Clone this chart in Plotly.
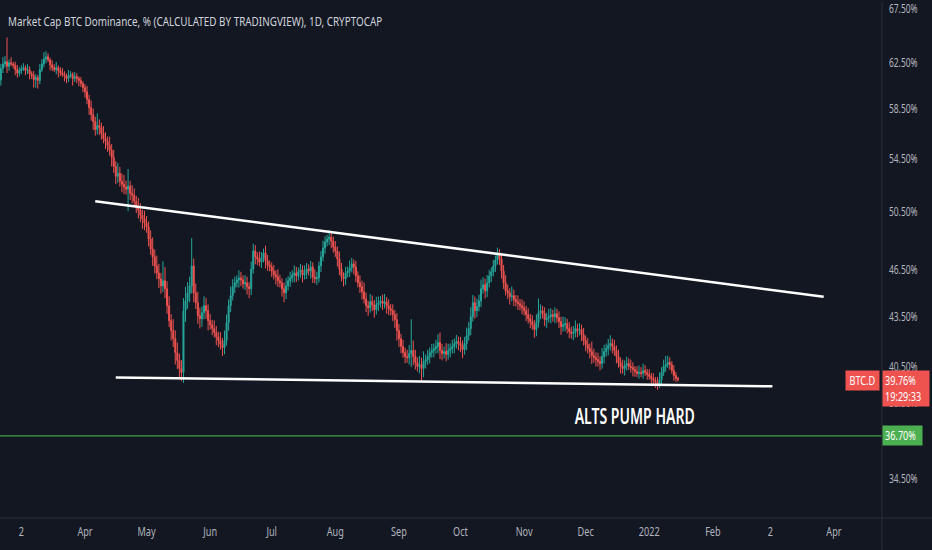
import numpy as np
import pandas as pd
import plotly.graph_objects as go

# daily closes of BTC.D (%)
feb_close = [62.00, 62.40, 62.60, 62.20, 62.50, 62.40, 62.30, 61.90, 61.60, 61.80]
mar_close = [61.98, 62.07, 61.81, 61.89, 61.54, 61.37, 61.02, 61.20, 60.94, 61.89,
             62.42, 62.86, 63.04, 62.77, 62.33, 62.07, 61.89, 62.07, 61.81, 61.63,
             61.46, 61.37, 61.11, 61.37, 61.46, 61.11, 61.28, 61.11, 60.94, 60.68, 60.33]
apr_close = [59.98, 59.31, 58.63, 58.05, 57.48, 56.83, 57.15, 56.99, 56.51, 56.11,
             55.87, 55.55, 55.16, 54.61, 53.92, 53.16, 53.38, 52.78, 52.56, 52.33,
             52.18, 52.41, 51.89, 51.74, 51.30, 50.94, 50.65, 50.29, 50.01, 49.72]
may_close = [49.44, 48.60, 47.92, 47.38, 46.77, 46.31, 45.92, 45.46, 45.79, 45.27,
             44.19, 43.26, 42.65, 42.16, 41.33, 40.87, 40.40, 40.18, 43.88, 44.50,
             45.01, 45.46, 46.77, 45.01, 44.38, 43.57, 43.38, 43.75, 44.19, 43.88, 43.26]
jun_close = [43.01, 42.77, 42.53, 42.28, 42.05, 41.81, 41.63, 42.05, 43.14, 44.19,
             44.82, 45.40, 45.66, 45.85, 45.98, 45.85, 45.59, 45.66, 45.40, 45.27,
             46.57, 47.78, 47.38, 47.24, 47.04, 47.31, 47.65, 47.11, 46.84, 46.71]
jul_close = [46.44, 46.18, 46.05, 45.79, 45.66, 45.27, 45.01, 45.46, 45.79, 45.98,
             46.18, 46.31, 46.11, 46.38, 46.51, 46.18, 46.31, 46.57, 46.44, 46.71,
             46.05, 45.92, 45.98, 46.77, 47.38, 47.99, 48.40, 48.60, 48.74, 48.47, 48.06]
aug_close = [47.78, 47.24, 46.57, 46.05, 45.92, 46.31, 46.44, 46.64, 46.91, 46.71,
             46.11, 45.66, 45.40, 45.08, 44.63, 44.19, 44.06, 44.44, 44.25, 43.94,
             44.25, 44.38, 44.50, 44.32, 44.44, 44.19, 44.00, 43.88, 43.63, 43.32, 42.65]
sep_close = [42.16, 41.69, 41.33, 41.10, 41.04, 41.28, 41.45, 41.10, 40.75, 40.52,
             40.63, 40.40, 40.81, 40.92, 41.10, 41.33, 41.45, 41.57, 41.69, 41.93,
             41.45, 41.28, 41.39, 41.22, 41.45, 41.57, 41.69, 41.87, 41.99, 41.87]
oct_close = [41.75, 41.51, 41.87, 42.34, 42.77, 43.50, 44.38, 43.88, 44.13, 44.50,
             45.27, 45.53, 45.14, 45.66, 46.11, 46.38, 46.77, 47.17, 47.51, 47.24,
             46.44, 45.66, 45.14, 45.01, 44.76, 44.82, 44.57, 44.44, 44.32, 44.19, 44.06]
nov_close = [43.88, 43.63, 43.38, 43.20, 43.01, 42.71, 43.14, 43.75, 43.88, 43.69,
             43.32, 43.44, 43.50, 43.63, 43.50, 43.69, 43.44, 43.20, 42.89, 43.01,
             43.07, 42.77, 42.59, 42.47, 42.53, 42.77, 42.65, 42.71, 42.41, 42.05]
dec_close = [41.81, 41.57, 41.39, 41.16, 41.04, 40.92, 40.81, 40.69, 41.10, 41.39,
             41.57, 41.75, 41.87, 41.69, 41.45, 41.10, 40.75, 40.52, 40.40, 40.58,
             40.69, 40.52, 40.46, 40.35, 40.23, 40.12, 40.18, 40.12, 40.29, 40.18, 40.06]
jan_close = [39.95, 39.83, 39.72, 39.61, 39.50, 39.78, 40.18, 40.52, 40.63, 40.75,
             40.63, 40.29, 40.00, 39.83, 39.76]

# wick lengths above / below the candle body (percentage points)
feb_up = [0.4, 0.6, 0.5, 2.2, 0.3, 0.5, 0.2, 0.3, 0.4, 0.3]
feb_dn = [0.5, 0.4, 0.3, 0.6, 0.4, 0.2, 0.3, 0.5, 0.4, 0.3]
mar_up = [0.3, 0.4, 0.2, 0.5, 0.3, 0.2, 0.4, 0.3, 0.2, 0.5, 0.4, 0.6, 0.5, 0.3, 0.2, 0.4,
          0.3, 0.5, 0.2, 0.3, 0.4, 0.3, 0.2, 0.5, 0.3, 0.2, 0.4, 0.3, 0.2, 0.3, 0.2]
mar_dn = [0.3, 0.2, 0.4, 0.3, 0.5, 0.3, 0.7, 0.7, 0.7, 0.3, 0.2, 0.3, 0.4, 0.2, 0.5, 0.3,
          0.2, 0.4, 0.6, 0.3, 0.2, 0.5, 0.4, 0.3, 0.2, 0.6, 0.3, 0.4, 0.5, 0.3, 0.4]
apr_up = [0.3, 0.5, 0.4, 0.6, 0.5, 0.4, 1.0, 0.5, 0.4, 0.6, 0.5, 0.4, 0.7, 0.5, 0.6,
          0.4, 0.8, 0.5, 0.6, 0.7, 0.5, 1.3, 0.4, 0.6, 0.5, 0.4, 0.6, 0.5, 0.4, 0.6]
apr_dn = [0.5, 0.4, 0.6, 0.5, 0.7, 0.5, 0.4, 0.6, 0.5, 0.4, 0.6, 0.5, 0.4, 0.7, 0.5,
          0.6, 0.5, 0.4, 0.6, 0.5, 0.4, 1.6, 0.5, 0.6, 0.4, 0.5, 0.6, 0.5, 0.7, 0.5]
may_up = [0.5, 0.4, 0.6, 0.8, 0.5, 0.7, 0.6, 0.4, 1.3, 0.9, 0.5, 0.6, 0.4, 0.7, 0.5, 0.6,
          0.4, 0.5, 0.8, 0.9, 0.7, 0.6, 1.9, 0.5, 0.6, 0.7, 0.5, 0.4, 0.6, 0.5, 0.4]
may_dn = [0.4, 0.5, 0.4, 0.6, 0.5, 0.4, 0.6, 0.5, 0.4, 0.6, 0.5, 0.4, 0.6, 0.5, 0.7, 0.5,
          0.6, 0.5, 0.6, 0.7, 0.5, 0.6, 0.5, 0.6, 0.4, 0.5, 0.6, 0.5, 0.4, 0.5, 0.6]
jun_up = [0.4, 0.3, 0.5, 0.4, 0.3, 0.5, 0.4, 0.6, 0.5, 0.4, 0.6, 0.5, 0.4, 0.3, 0.5,
          0.4, 0.3, 0.5, 0.4, 0.3, 0.5, 0.5, 0.4, 0.3, 0.5, 0.4, 0.3, 0.5, 0.4, 0.3]
jun_dn = [0.3, 0.4, 0.3, 0.5, 0.4, 0.3, 0.5, 0.4, 0.3, 0.5, 0.4, 0.3, 0.4, 0.3, 0.5,
          0.4, 0.3, 0.4, 0.5, 0.6, 0.4, 0.3, 0.5, 0.4, 0.3, 0.4, 0.3, 0.5, 0.4, 0.3]
jul_up = [0.3, 0.4, 0.3, 0.5, 0.4, 0.3, 0.4, 0.5, 0.3, 0.4, 0.3, 0.5, 0.4, 0.3, 0.4, 0.3,
          0.5, 0.4, 0.3, 0.4, 0.3, 0.5, 0.4, 0.3, 0.4, 0.5, 0.4, 0.3, 0.5, 0.4, 0.3]
jul_dn = [0.4, 0.3, 0.5, 0.4, 0.3, 0.5, 0.6, 0.4, 0.3, 0.4, 0.3, 0.5, 0.4, 0.3, 0.4, 0.5,
          0.3, 0.4, 0.3, 0.5, 0.4, 0.3, 0.4, 0.3, 0.4, 0.3, 0.4, 0.3, 0.4, 0.5, 0.4]
aug_up = [0.4, 0.3, 0.5, 0.4, 0.3, 0.4, 0.3, 0.5, 0.4, 0.3, 0.4, 0.3, 0.5, 0.4, 0.6, 0.4,
          0.3, 0.5, 0.4, 0.3, 0.5, 0.4, 0.3, 0.4, 0.5, 0.3, 0.4, 0.3, 0.4, 0.3, 0.4]
aug_dn = [0.4, 0.5, 0.4, 0.3, 0.5, 0.4, 0.3, 0.4, 0.3, 0.5, 0.4, 0.3, 0.4, 0.5, 0.3, 0.4,
          0.5, 0.3, 0.4, 0.5, 0.3, 0.4, 0.3, 0.4, 0.3, 0.5, 0.4, 0.3, 0.4, 0.5, 0.6]
sep_up = [0.4, 0.3, 0.4, 0.3, 0.4, 0.5, 1.9, 0.6, 0.4, 0.3, 0.5, 0.4, 0.6, 0.3, 0.4,
          0.3, 0.4, 0.3, 0.4, 0.5, 0.6, 0.4, 0.3, 0.5, 0.4, 0.3, 0.4, 0.3, 0.4, 0.3]
sep_dn = [0.5, 0.4, 0.3, 0.4, 0.3, 0.4, 0.8, 0.5, 0.4, 0.3, 0.4, 0.7, 0.5, 0.4, 0.3,
          0.4, 0.3, 0.4, 0.3, 0.4, 0.5, 0.4, 0.3, 0.4, 0.3, 0.4, 0.3, 0.4, 0.3, 0.4]
oct_up = [0.4, 0.3, 0.4, 0.5, 0.4, 0.6, 0.5, 0.4, 0.5, 0.4, 0.6, 0.5, 0.4, 0.5, 0.4, 0.3,
          0.4, 0.3, 0.5, 0.4, 0.3, 0.4, 0.5, 0.4, 0.3, 0.6, 0.4, 0.3, 0.4, 0.3, 0.4]
oct_dn = [0.4, 0.5, 0.3, 0.4, 0.3, 0.4, 0.3, 0.5, 0.4, 0.3, 0.4, 0.3, 0.5, 0.4, 0.3, 0.4,
          0.3, 0.4, 0.3, 0.4, 0.5, 0.4, 0.3, 0.4, 0.5, 0.3, 0.4, 0.3, 0.4, 0.3, 0.4]
nov_up = [0.4, 0.3, 0.4, 0.3, 0.4, 0.3, 0.5, 0.9, 0.4, 0.3, 0.4, 0.3, 0.5, 0.4, 0.3,
          0.4, 0.3, 0.4, 0.3, 0.5, 0.4, 0.3, 0.4, 0.3, 0.4, 0.5, 0.3, 0.4, 0.3, 0.4]
nov_dn = [0.3, 0.4, 0.3, 0.4, 0.3, 0.5, 0.4, 0.3, 0.4, 0.3, 0.4, 0.5, 0.3, 0.4, 0.3,
          0.4, 0.3, 0.4, 0.5, 0.3, 0.4, 0.3, 0.4, 0.3, 0.4, 0.3, 0.4, 0.3, 0.4, 0.3]
dec_up = [0.3, 0.4, 0.3, 0.6, 0.4, 0.3, 0.4, 0.3, 0.5, 0.4, 0.3, 0.4, 0.5, 0.3, 0.4, 0.3,
          0.4, 0.3, 0.4, 0.3, 0.4, 0.3, 0.4, 0.3, 0.2, 0.3, 0.4, 0.3, 0.4, 0.3, 0.2]
dec_dn = [0.4, 0.3, 0.4, 0.5, 0.3, 0.4, 0.3, 0.4, 0.3, 0.4, 0.3, 0.4, 0.3, 0.4, 0.3, 0.4,
          0.3, 0.4, 0.3, 0.4, 0.3, 0.2, 0.3, 0.4, 0.3, 0.2, 0.3, 0.2, 0.3, 0.2, 0.3]
jan_up = [0.3, 0.2, 0.3, 0.2, 0.3, 0.4, 0.3, 0.4, 0.5, 0.4, 0.3, 0.2, 0.3, 0.2, 0.1]
jan_dn = [0.2, 0.3, 0.2, 0.3, 0.3, 0.2, 0.3, 0.2, 0.3, 0.2, 0.3, 0.2, 0.3, 0.2, 0.1]

first_open = 61.0
first_day = "2021-02-19"
last_price = "39.76%"
countdown = "19:29:33"
support_level = 36.70

# drawn trend lines (date, value)
upper_line_x = ["2021-04-06", "2022-03-27"]
upper_line_y = [51.30, 44.76]
lower_line_x = ["2021-04-16", "2022-03-02"]
lower_line_y = [39.89, 39.39]

tick_vals = [34.5, 38.5, 40.5, 43.5, 46.5, 50.5, 54.5, 58.5, 62.5, 67.5]
month_ticks = ["2021-03-01", "2021-04-01", "2021-05-01", "2021-06-01", "2021-07-01",
               "2021-08-01", "2021-09-01", "2021-10-01", "2021-11-01", "2021-12-01",
               "2022-01-01", "2022-02-01", "2022-03-01", "2022-04-01"]
month_text = ["2", "Apr", "May", "Jun", "Jul", "Aug", "Sep", "Oct", "Nov", "Dec",
              "2022", "Feb", "2", "Apr"]

close = np.array(feb_close + mar_close + apr_close + may_close + jun_close + jul_close
                 + aug_close + sep_close + oct_close + nov_close + dec_close + jan_close)
up = np.array(feb_up + mar_up + apr_up + may_up + jun_up + jul_up
              + aug_up + sep_up + oct_up + nov_up + dec_up + jan_up)
dn = np.array(feb_dn + mar_dn + apr_dn + may_dn + jun_dn + jul_dn
              + aug_dn + sep_dn + oct_dn + nov_dn + dec_dn + jan_dn)
opn = np.concatenate([[first_open], close[:-1]])
high = np.maximum(opn, close) + up
low = np.minimum(opn, close) - dn
days = pd.date_range(first_day, periods=len(close), freq="D")

BG = "#131722"
TXT = "#b2b5be"
RED = "#ef5350"
GREEN = "#26a69a"
FONT = "Noto Sans, DejaVu Sans, sans-serif"


def cfont(size, color, weight="normal"):
    return dict(family=FONT, size=size, color=color, weight=weight)


x_range = ["2021-02-18 14:00", "2022-04-24 10:00"]
y_range = [np.log10(32.64), np.log10(68.17)]

fig = go.Figure()
fig.add_trace(go.Candlestick(
    x=days, open=opn, high=high, low=low, close=close,
    increasing=dict(line=dict(color=GREEN, width=1), fillcolor=GREEN),
    decreasing=dict(line=dict(color=RED, width=1), fillcolor=RED),
    whiskerwidth=0, hoverinfo="skip", showlegend=False,
))
fig.add_trace(go.Scatter(x=upper_line_x, y=upper_line_y, mode="lines",
                         line=dict(color="white", width=2.5), hoverinfo="skip", showlegend=False))
fig.add_trace(go.Scatter(x=lower_line_x, y=lower_line_y, mode="lines",
                         line=dict(color="white", width=2.5), hoverinfo="skip", showlegend=False))
fig.add_trace(go.Scatter(x=x_range, y=[support_level, support_level], mode="lines",
                         line=dict(color="#43a047", width=1.2), hoverinfo="skip", showlegend=False))

fig.update_layout(
    width=932, height=550,
    margin=dict(l=0, r=50, t=0, b=32),
    paper_bgcolor=BG, plot_bgcolor=BG,
    font=cfont(12, TXT),
    showlegend=False,
    xaxis=dict(type="date", range=x_range, rangeslider=dict(visible=False),
               showgrid=False, zeroline=False, showline=False,
               tickmode="array", tickvals=month_ticks, ticktext=month_text,
               tickfont=cfont(12, TXT), ticks="", ticklabelstandoff=5),
    yaxis=dict(type="log", range=y_range, side="right", showgrid=False, zeroline=False,
               showline=False, tickmode="array", tickvals=tick_vals,
               ticktext=["%.2f%%" % v for v in tick_vals],
               tickfont=cfont(12, TXT), ticks="", ticklabelstandoff=6,
               ticklabeloverflow="allow"),
    shapes=[
        dict(type="line", xref="paper", yref="paper", x0=0, x1=932 / 882, y0=0, y1=0,
             line=dict(color="#2a2e39", width=1)),
        dict(type="line", xref="paper", yref="paper", x0=1, x1=1, y0=-32 / 518, y1=1,
             line=dict(color="#2a2e39", width=1)),
    ],
    annotations=[
        dict(text="Market Cap BTC Dominance, % (CALCULATED BY TRADINGVIEW), 1D, CRYPTOCAP",
             xref="paper", yref="paper", x=6 / 882, y=1 - 19 / 518, xanchor="left",
             yanchor="middle", showarrow=False, font=cfont(13, "#d1d4dc")),
        dict(text="ALTS PUMP HARD", xref="paper", yref="paper", x=634 / 882, y=1 - 416 / 518,
             xanchor="center", yanchor="middle", showarrow=False,
             font=cfont(21, "white", 600)),
        dict(text="BTC.D", xref="paper", yref="paper", x=880 / 882, y=1 - 380 / 518,
             xanchor="right", yanchor="middle", showarrow=False, bgcolor=RED,
             width=29, height=15, borderpad=2, font=cfont(12, "white")),
        dict(text=last_price + "<br>" + countdown, xref="paper", yref="paper", x=1.0,
             y=1 - 388 / 518, xanchor="left", yanchor="middle", showarrow=False,
             bgcolor=RED, width=42, height=31, borderpad=2, align="left",
             font=cfont(12, "white")),
        dict(text="%.2f%%" % support_level, xref="paper", yref="paper", x=1.0,
             y=1 - 435.5 / 518, xanchor="left", yanchor="middle", showarrow=False,
             bgcolor="#4caf50", width=35, height=15, borderpad=2, align="left",
             font=cfont(12, "white")),
    ],
)

# the reference text is horizontally narrow, so squeeze every label a bit
squeeze_js = """
document.body.style.margin = '0';
var gd = document.getElementById('{plot_id}');
function squeezeFactor(t) {
    var s = t.textContent;
    if (s.indexOf('ALTS') === 0) return 0.67;
    if (t.closest('g.ytick')) return 0.7;
    return 0.76;
}
gd.querySelectorAll('text').forEach(function (t) {
    var f = squeezeFactor(t);
    var keepLeft = t.textContent.indexOf('Market Cap') === 0;
    var box = t.getBBox();
    var lines = t.querySelectorAll('tspan.line');
    var els = lines.length ? Array.prototype.slice.call(lines) : [t];
    els.forEach(function (e) {
        var w = e.getComputedTextLength();
        if (w > 0) {
            e.setAttribute('textLength', (w * f).toFixed(1));
            e.setAttribute('lengthAdjust', 'spacingAndGlyphs');
        }
        if (keepLeft) {
            e.setAttribute('text-anchor', 'start');
            e.setAttribute('x', box.x);
        }
    });
});
"""

fig.write_html("out.html", config={"displayModeBar": False}, post_script=squeeze_js)
